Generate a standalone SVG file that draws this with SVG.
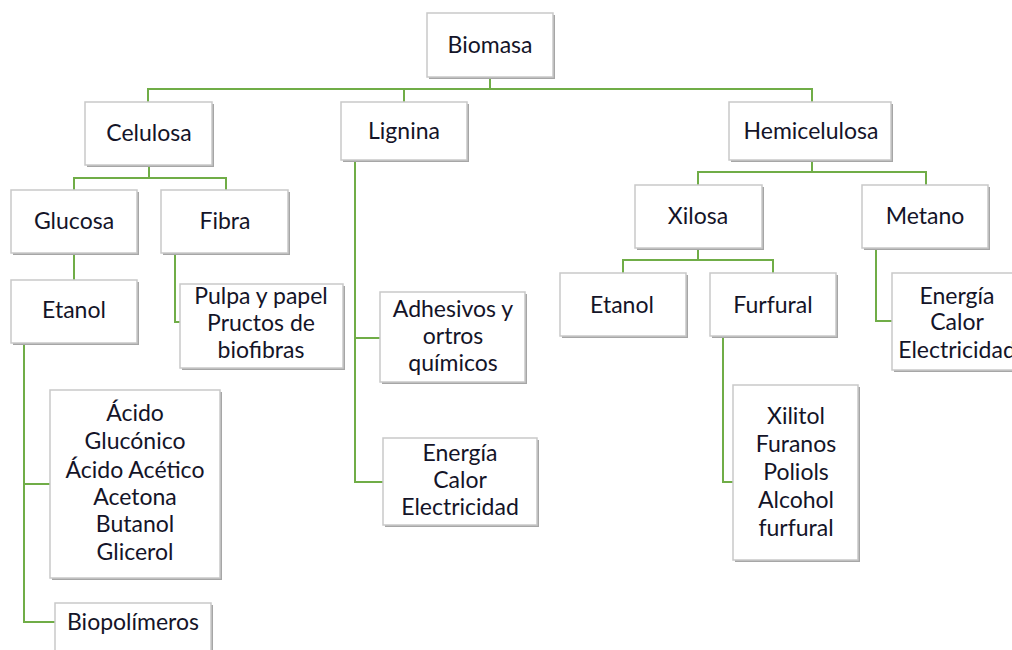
<svg xmlns="http://www.w3.org/2000/svg" width="1012" height="650" viewBox="0 0 1012 650">
<defs>
<style>
.sh{fill:#a6a6a6;}
.bx{fill:#ffffff;stroke:#c9c9c9;stroke-width:1.5;}
.t{font-family:Lato,"Open Sans",sans-serif;font-size:23px;fill:#141428;text-anchor:middle;}
.c{fill:none;stroke:#70ad47;stroke-width:2;}
</style>
</defs>
<rect width="1012" height="650" fill="#ffffff"/>
<g id="connectors">
<path class="c" d="M490 78V89M148 102V89H812V102M404 89V102"/>
<path class="c" d="M149 165V178M74 190V178H226V190"/>
<path class="c" d="M74 253V280"/>
<path class="c" d="M24 343V622H55M24 484H50"/>
<path class="c" d="M175 253V322H180"/>
<path class="c" d="M355 160V482H383M355 338H380"/>
<path class="c" d="M812 160V172M698 185V172H926V185"/>
<path class="c" d="M698 248V260M623 273V260H773V273"/>
<path class="c" d="M723 336V482H733"/>
<path class="c" d="M876 248V321H892"/>
</g>
<g id="biomasa"><rect class="sh" x="429" y="15" width="126" height="64"/><rect class="bx" x="427" y="13" width="126" height="64"/><text class="t" x="490" y="53">Biomasa</text></g>
<g id="celulosa"><rect class="sh" x="87" y="104" width="127" height="63"/><rect class="bx" x="85" y="102" width="127" height="63"/><text class="t" x="149" y="141">Celulosa</text></g>
<g id="lignina"><rect class="sh" x="343" y="104" width="126" height="58"/><rect class="bx" x="341" y="102" width="126" height="58"/><text class="t" x="404" y="139">Lignina</text></g>
<g id="hemicelulosa"><rect class="sh" x="731" y="104" width="162" height="58"/><rect class="bx" x="729" y="102" width="162" height="58"/><text class="t" x="811" y="139">Hemicelulosa</text></g>
<g id="glucosa"><rect class="sh" x="13" y="192" width="126" height="63"/><rect class="bx" x="11" y="190" width="126" height="63"/><text class="t" x="74" y="229">Glucosa</text></g>
<g id="fibra"><rect class="sh" x="163" y="192" width="127" height="63"/><rect class="bx" x="161" y="190" width="127" height="63"/><text class="t" x="225" y="229">Fibra</text></g>
<g id="etanol1"><rect class="sh" x="13" y="282" width="126" height="63"/><rect class="bx" x="11" y="280" width="126" height="63"/><text class="t" x="74" y="318">Etanol</text></g>
<g id="acidos"><rect class="sh" x="52" y="392" width="170" height="188"/><rect class="bx" x="50" y="390" width="170" height="188"/><text class="t" x="135" y="421">Ácido</text><text class="t" x="135" y="449">Glucónico</text><text class="t" x="135" y="478">Ácido Acético</text><text class="t" x="135" y="505">Acetona</text><text class="t" x="135" y="532">Butanol</text><text class="t" x="135" y="560">Glicerol</text></g>
<g id="biopolimeros"><rect class="sh" x="57" y="605" width="156" height="60"/><rect class="bx" x="55" y="603" width="156" height="60"/><text class="t" x="133" y="630">Biopolímeros</text></g>
<g id="pulpa"><rect class="sh" x="182" y="286" width="163" height="84"/><rect class="bx" x="180" y="284" width="163" height="84"/><text class="t" x="261" y="304">Pulpa y papel</text><text class="t" x="261" y="331">Pructos de</text><text class="t" x="261" y="358">biofibras</text></g>
<g id="adhesivos"><rect class="sh" x="382" y="294" width="145" height="90"/><rect class="bx" x="380" y="292" width="145" height="90"/><text class="t" x="453" y="317">Adhesivos y</text><text class="t" x="453" y="344">ortros</text><text class="t" x="453" y="371">químicos</text></g>
<g id="energia1"><rect class="sh" x="385" y="440" width="154" height="87"/><rect class="bx" x="383" y="438" width="154" height="87"/><text class="t" x="460" y="461">Energía</text><text class="t" x="460" y="488">Calor</text><text class="t" x="460" y="515">Electricidad</text></g>
<g id="xilosa"><rect class="sh" x="637" y="187" width="127" height="63"/><rect class="bx" x="635" y="185" width="127" height="63"/><text class="t" x="698" y="224">Xilosa</text></g>
<g id="metano"><rect class="sh" x="864" y="187" width="126" height="63"/><rect class="bx" x="862" y="185" width="126" height="63"/><text class="t" x="925" y="224">Metano</text></g>
<g id="etanol2"><rect class="sh" x="562" y="275" width="126" height="63"/><rect class="bx" x="560" y="273" width="126" height="63"/><text class="t" x="622" y="313">Etanol</text></g>
<g id="furfural"><rect class="sh" x="712" y="275" width="126" height="63"/><rect class="bx" x="710" y="273" width="126" height="63"/><text class="t" x="773" y="313">Furfural</text></g>
<g id="xilitol"><rect class="sh" x="735" y="387" width="125" height="175"/><rect class="bx" x="733" y="385" width="125" height="175"/><text class="t" x="796" y="424">Xilitol</text><text class="t" x="796" y="452">Furanos</text><text class="t" x="796" y="480">Poliols</text><text class="t" x="796" y="508">Alcohol</text><text class="t" x="796" y="536">furfural</text></g>
<g id="energia2"><rect class="sh" x="894" y="275" width="130" height="97"/><rect class="bx" x="892" y="273" width="130" height="97"/><text class="t" x="957" y="304">Energía</text><text class="t" x="957" y="330">Calor</text><text class="t" x="957" y="358">Electricidad</text></g>
</svg>
